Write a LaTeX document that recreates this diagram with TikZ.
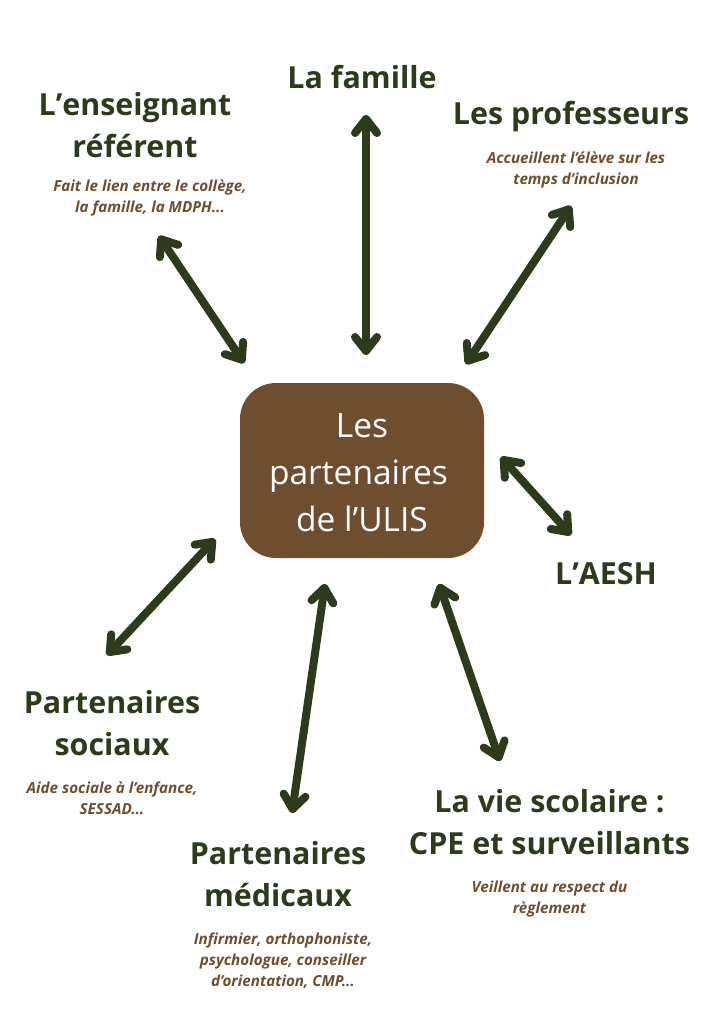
\documentclass[tikz,border=0pt]{standalone}
\usepackage{fontspec}
\setmainfont{Open Sans}
\usetikzlibrary{arrows.meta,positioning}
\definecolor{darkgreen}{HTML}{2D3A1C}
\definecolor{barkbrown}{HTML}{6F4E2F}
\pgfdeclarearrow{
    name=Vee Barb,
    setup code={
        \pgfarrowssettipend{4pt}
        \pgfarrowssetlineend{0pt}
        \pgfarrowssetbackend{-14pt}
        \pgfarrowssetvisualbackend{-14pt}
        \pgfarrowsupperhullpoint{-14pt}{11pt}
        \pgfarrowsupperhullpoint{4pt}{0pt}
    },
    drawing code={
        \pgfsetdash{}{0pt}
        \pgfsetroundcap
        \pgfsetroundjoin
        \pgfpathmoveto{\pgfqpoint{-14pt}{11pt}}
        \pgfpathlineto{\pgfqpoint{0pt}{0pt}}
        \pgfpathlineto{\pgfqpoint{-14pt}{-11pt}}
        \pgfusepathqstroke
    },
    defaults={}
}
\tikzset{
    title/.style={font=\fontsize{30.4}{42}\selectfont\bfseries,text=darkgreen,align=center,inner sep=0pt},
    remark/.style={font=\fontsize{15.2}{21}\selectfont\bfseries\itshape,text=barkbrown,align=center,inner sep=0pt},
    hub/.style={fill=barkbrown,rounded corners=36pt,minimum width=244pt,minimum height=175pt,inner sep=0pt},
    hubtext/.style={font=\fontsize{33.5}{47}\selectfont,text=white,align=center,inner sep=0pt},
    link/.style={draw=darkgreen,line width=8pt,line cap=round,{Vee Barb}-{Vee Barb}}
}
\begin{document}
\begin{tikzpicture}[x=1pt,y=-1pt,node distance=40pt,on grid]
            \useasboundingbox (0,0) rectangle (724,1024);
            \node[hub] (ulis) at (362,470.5) {};
            \node[hubtext] (ulis_text) at (362,473) {Les\\\mbox{partenaires\kern7pt}\\de l’ULIS};
            \node[title] (t_1) at (135,125) {L\kern0pt’\kern0pt enseignant\\référent};
            \node[remark] (r_1) [below right=73pt and 15pt of t_1] {Fait le lien entre le collège,\\la famille, la MDPH...};
            \node[title] (t_2) at (362,77) {La famille};
            \node[title] (t_3) at (571,117) {Les professeurs};
            \node[remark] (r_3) [below right=53pt and 5pt of t_3] {Accueillent l’élève sur les\\temps d’inclusion};
            \node[title] (t_4) at (606,574) {L\kern0pt’\kern0pt AESH};
            \node[title] (t_5) at (112,723) {Partenaires\\sociaux};
            \node[remark] (r_5) [below=75pt of t_5] {Aide sociale à l’enfance,\\SESSAD...};
            \node[title] (t_6) at (278,874) {Partenaires\\médicaux};
            \node[remark] (r_6) [below right=87pt and 5pt of t_6] {Infirmier, orthophoniste,\\psychologue, conseiller\\d’orientation, CMP...};
            \node[title] (t_7) at (549.5,822) {La vie scolaire :\\CPE et surveillants};
            \node[remark] (r_7) [below=77pt of t_7] {Veillent au respect du\\règlement};
            % free ends of the arrows
            \coordinate (a_1) at (159,236);
            \coordinate (b_1) at (244,363);
            \coordinate (a_2) at (366,115);
            \coordinate (b_2) at (366,355);
            \coordinate (a_3) at (571,206);
            \coordinate (b_3) at (466,364);
            \coordinate (a_4) at (501,457);
            \coordinate (b_4) at (571,535);
            \coordinate (a_5) at (215,539);
            \coordinate (b_5) at (107,655);
            \coordinate (a_6) at (325,584);
            \coordinate (b_6) at (292,813);
            \coordinate (a_7) at (439,584);
            \coordinate (b_7) at (500,761);
            \draw[link] (a_1) -- (b_1);
            \draw[link] (a_2) -- (b_2);
            \draw[link] (a_3) -- (b_3);
            \draw[link] (a_4) -- (b_4);
            \draw[link] (a_5) -- (b_5);
            \draw[link] (a_6) -- (b_6);
            \draw[link] (a_7) -- (b_7);
        \end{tikzpicture}
\end{document}
